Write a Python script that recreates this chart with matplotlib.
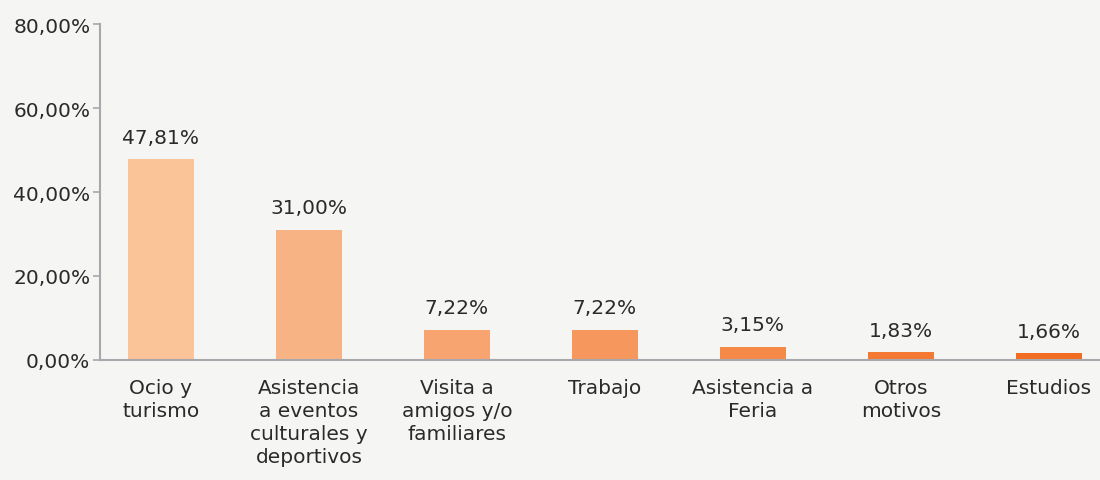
import matplotlib
matplotlib.use("Agg")
import matplotlib.pyplot as plt

# ── Data ──────────────────────────────────────────────────────────────────────
categories = [
    "Ocio y\nturismo",
    "Asistencia\na eventos\nculturales y\ndeportivos",
    "Visita a\namigos y/o\nfamiliares",
    "Trabajo",
    "Asistencia a\nFeria",
    "Otros\nmotivos",
    "Estudios",
]
values = [47.81, 31.00, 7.22, 7.22, 3.15, 1.83, 1.66]
yticks = [0, 20, 40, 60, 80]
colors = ["#FAC398", "#F8B384", "#F7A470", "#F6975D", "#F58A48", "#F47A34", "#F26C22"]

BG = "#F5F5F4"
AXIS = "#A8A8AC"
TEXT = "#2A2A2A"

plt.rcParams["font.family"] = ["DejaVu Sans"]
FS = 14.5

fig = plt.figure(figsize=(11, 4.81), dpi=100, facecolor=BG)
ax = fig.add_axes([0.0909, 0.2495, 0.909, 0.6985], facecolor=BG)

x = list(range(len(categories)))
ax.bar(x, values, width=0.446, color=colors, zorder=2)

for xi, v in zip(x, values):
    ax.annotate(f"{v:.2f}%".replace(".", ","), (xi, v), xytext=(0, 9),
                textcoords="offset points", ha="center", va="bottom",
                fontsize=FS, color=TEXT)

ax.set_xlim(-0.412, 6.345)
ax.set_ylim(0, 80)
ax.set_yticks(yticks)
ax.set_yticklabels([f"{t:.2f}%".replace(".", ",") for t in yticks],
                   fontsize=FS, color=TEXT)
ax.set_xticks(x)
ax.set_xticklabels(categories, fontsize=FS, color=TEXT, linespacing=1.26)
ax.tick_params(axis="x", length=0, pad=13)
ax.tick_params(axis="y", length=5, width=1.2, color=AXIS, pad=2)

for s in ["top", "right"]:
    ax.spines[s].set_visible(False)
for s in ["left", "bottom"]:
    ax.spines[s].set_color(AXIS)
    ax.spines[s].set_linewidth(1.5)

fig.savefig("out.png", dpi=100, facecolor=BG)
